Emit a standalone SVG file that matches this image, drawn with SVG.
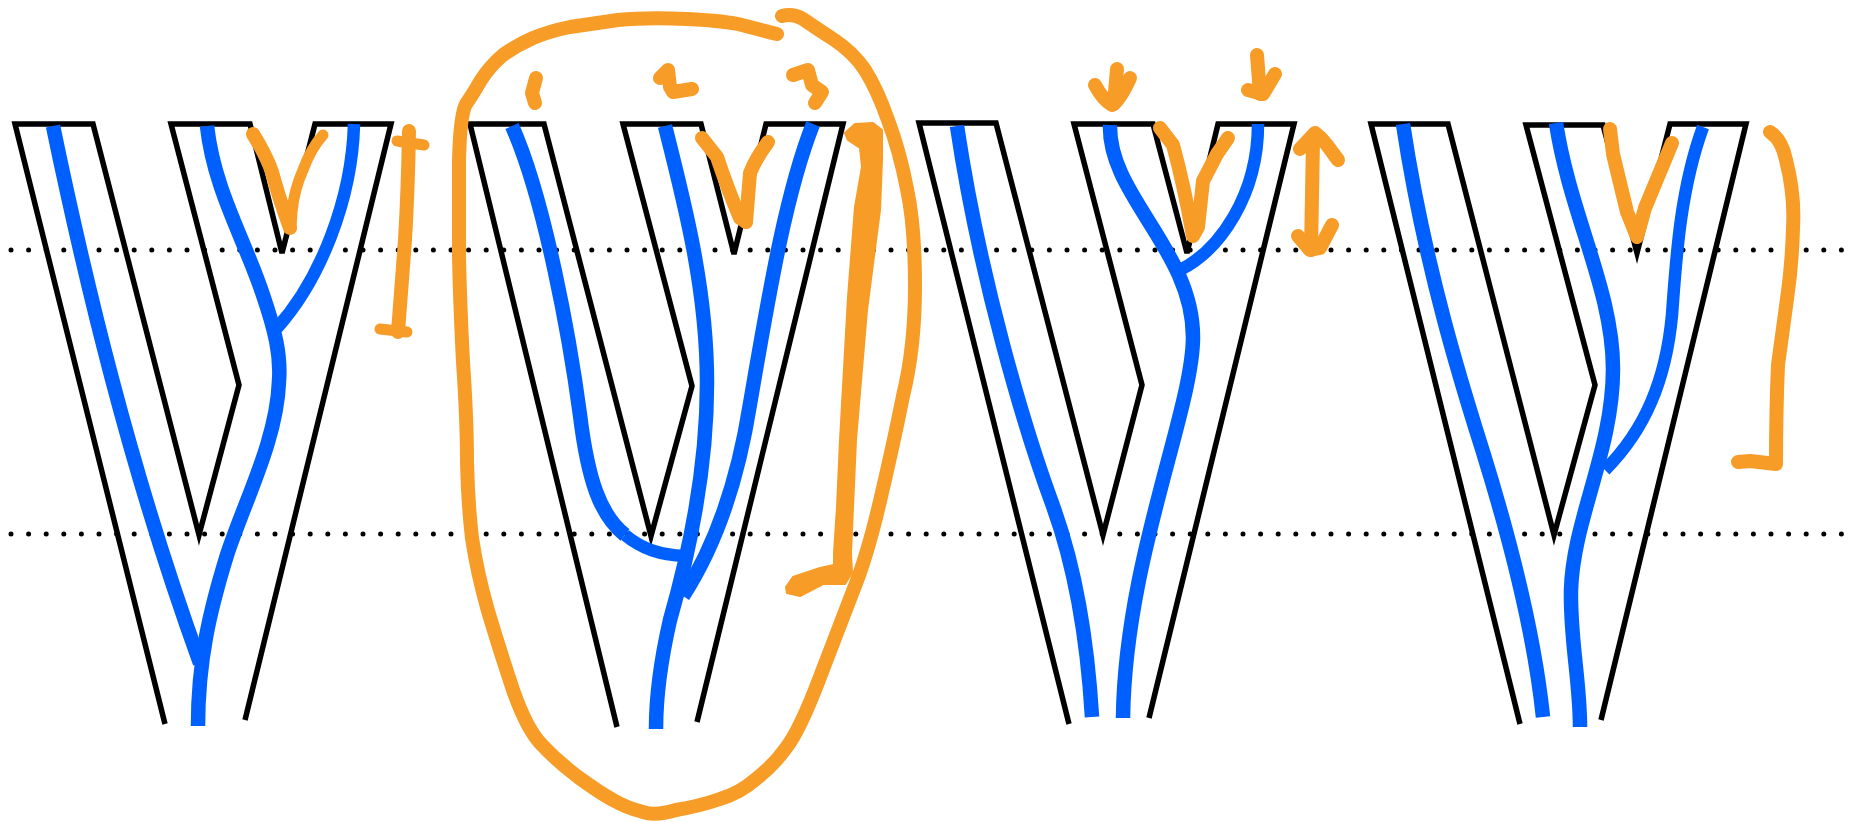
<svg xmlns="http://www.w3.org/2000/svg" width="1858" height="822" viewBox="0 0 1858 822">
<style>
.dots{fill:none;stroke:#000;stroke-width:5;stroke-linecap:round;stroke-dasharray:0 17.6}
.wall{fill:none;stroke:#000;stroke-width:5.5;stroke-linejoin:miter}
.flow{fill:none;stroke:#0060ff;stroke-width:14.5}
.branch{fill:none;stroke:#0060ff;stroke-width:12.5}
.ink{fill:none;stroke:#f79c26;stroke-width:14;stroke-linecap:round;stroke-linejoin:round}
.thin{fill:none;stroke:#f79c26;stroke-width:11;stroke-linecap:round;stroke-linejoin:round}
.fillink{fill:#f79c26;stroke:#f79c26;stroke-width:2;stroke-linejoin:round}
</style>
<rect width="1858" height="822" fill="#fff"/>
<g id="dotted-lines">
<path class="dots" d="M11 250H1845"/>
<path class="dots" d="M11 534H1845"/>
</g>
<g id="y1">
<path class="wall" d="M165 724L15 124H93L199 535L239 385L171 124H250L282 253L315 124H391L245 720"/>
<path class="flow" d="M53 126C85 280 130 470 200 663"/>
<path class="flow" d="M207 126C214 190 245 240 263 295C275 330 281 355 279 381C277 440 245 500 227 555C210 610 198 660 198 726"/>
<path class="branch" d="M354 124C352 200 320 280 277 328"/>
<path class="ink" d="M253 134Q266 155 272 172Q278 195 290 228"/>
<path class="thin" d="M323 135Q311 148 303 170Q294 190 292 212L291 228"/>
<path class="ink" d="M409 131Q408 190 405 240L398 332"/>
<path class="thin" d="M397 141L424 145"/>
<path class="thin" d="M380 329L407 332"/>
</g>
<g id="y2">
<path class="wall" d="M617 727L470 124H544L651 536L692 386L623 124H701L734 254L766 124H843L697 722"/>
<path class="flow" d="M512 126C545 200 570 340 580 415C588 480 600 515 625 535"/>
<path class="branch" d="M625 535C642 549 660 555 685 556"/>
<path class="flow" d="M665 126C685 205 707 290 707 383C707 470 690 550 670 620C662 655 656 690 656 729"/>
<path class="flow" d="M813 124C785 195 768 300 750 404C738 480 716 545 683 596"/>
<path class="ink" d="M702 138L717 157Q728 190 740 218L746 222"/>
<path class="ink" d="M746 222L750 173Q756 158 768 142"/>
<path class="ink" d="M536 78L532 93L535 103"/>
<path class="ink" d="M660 78L668 70L670 87L673 92L692 89"/>
<path class="ink" d="M793 75L808 70L812 85L822 92L815 103"/>
<path class="fillink" d="M845 133L855 124L873 123L882 130L882 160L880 210L867 310L856 440L853 507L851 553L852 573L845 584L823 584L800 596L787 593L786 587L793 577L820 568L834 565L834 553L837 507L840 440L848 297L855 207L862 167L860 148L848 140Z"/>
<path class="ink" d="M777 34Q757 29 742 25Q727 21 687 19Q647 17 618 20Q590 24 570 27Q550 31 533 38Q517 45 503 55Q490 66 481 80Q473 94 466 104Q460 115 459 162Q459 210 459 257Q460 304 463 362Q467 420 467 462Q468 504 472 538Q477 572 488 611Q500 651 513 690Q527 730 542 745Q557 761 578 777Q600 793 613 800Q627 808 640 811Q653 817 676 810Q700 806 720 799Q740 793 756 779Q773 766 786 748Q800 730 820 677Q840 625 853 591Q867 557 880 501Q893 446 903 396Q915 347 915 286Q915 226 907 189Q900 152 888 120Q877 89 865 70Q853 52 833 39Q813 26 803 19Q793 13 782 16"/>
</g>
<g id="y3">
<path class="wall" d="M1069 724L919 123H996L1103 535L1142 385L1074 124H1153L1187 253L1218 124H1294L1149 718"/>
<path class="flow" d="M957 126C980 280 1025 430 1053 506C1078 575 1088 650 1092 717"/>
<path class="flow" d="M1110 125C1108 195 1193 250 1193 337C1193 410 1125 560 1123 718"/>
<path class="branch" d="M1258 124C1258 195 1220 250 1180 270"/>
<path class="ink" d="M1160 128L1173 145Q1184 185 1193 236L1198 227L1203 181L1217 154L1228 138"/>
<path class="ink" d="M1095 85Q1103 100 1112 105Q1120 100 1130 78"/>
<path class="ink" d="M1117 69L1114 104"/>
<path class="ink" d="M1257 55L1260 94"/>
<path class="ink" d="M1248 90L1263 94L1275 74"/>
<path class="ink" d="M1300 149L1315 133Q1322 138 1327 145L1338 160"/>
<path class="ink" d="M1313 140L1311 250"/>
<path class="ink" d="M1298 236L1310 250L1320 248L1332 225"/>
</g>
<g id="y4">
<path class="wall" d="M1520 724L1371 124H1448L1554 535L1595 385L1526 125H1603L1637 253L1670 124H1746L1601 720"/>
<path class="flow" d="M1403 124C1425 270 1465 395 1483 452C1515 555 1535 640 1543 717"/>
<path class="flow" d="M1556 123C1570 215 1613 290 1613 369C1613 450 1573 520 1571 590C1570 640 1580 680 1580 727"/>
<path class="branch" d="M1703 127C1680 190 1676 260 1672 315C1666 380 1645 430 1605 470"/>
<path class="ink" d="M1610 129L1613 154L1627 212L1637 237L1645 208L1672 143"/>
<path class="ink" d="M1770 132Q1782 140 1786 160Q1795 195 1793 228Q1792 265 1787 299L1778 365Q1776 410 1776 464L1750 461L1738 462"/>
</g>
</svg>
